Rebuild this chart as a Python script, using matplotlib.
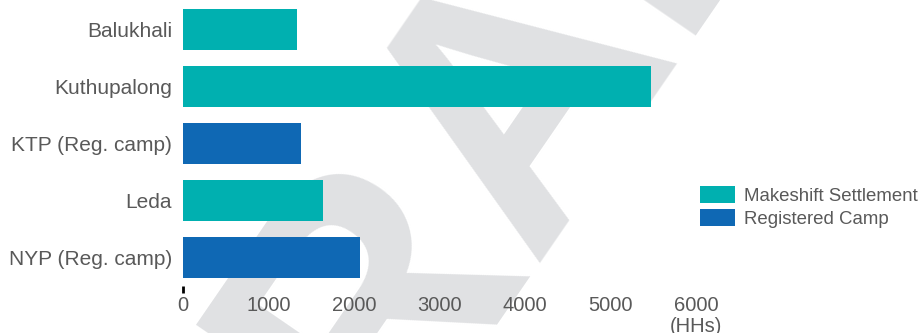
import matplotlib
matplotlib.use("Agg")
import matplotlib.pyplot as plt
from matplotlib.patches import Patch

categories = ["Balukhali", "Kuthupalong", "KTP (Reg. camp)", "Leda", "NYP (Reg. camp)"]
values = [1335, 5470, 1380, 1640, 2070]
types = ["Makeshift Settlement", "Makeshift Settlement", "Registered Camp",
         "Makeshift Settlement", "Registered Camp"]
x_ticks = [0, 1000, 2000, 3000, 4000, 5000, 6000]
x_ticklabels = ["0", "1000", "2000", "3000", "4000", "5000", "6000\n(HHs)"]
legend_labels = ["Makeshift Settlement", "Registered Camp"]
colors = {"Makeshift Settlement": "#00B0B0", "Registered Camp": "#0F68B4"}

plt.rcParams['font.family'] = ['Liberation Sans', 'DejaVu Sans']
text_color = "#595959"

fig = plt.figure(figsize=(9.2, 3.33), dpi=100)
ax = fig.add_axes([183/920, 47/333, 513/920, 285/333])
ax.patch.set_alpha(0)

# watermark
ax.text(0.6255, 0.4754, "DRAFT", transform=fig.transFigure, fontsize=260,
        fontweight='bold', color="#E0E1E3", rotation=55.5, ha='center',
        va='baseline', zorder=0, clip_on=False, rotation_mode='anchor')

ypos = list(range(len(categories)))
ax.barh(ypos, values, height=0.72, color=[colors[t] for t in types], zorder=2)
ax.set_ylim(len(categories) - 0.5, -0.5)
ax.set_xlim(0, 6000)
ax.set_yticks(ypos)
ax.set_yticklabels(categories, fontsize=15, color=text_color)
ax.set_xticks(x_ticks)
ax.set_xticklabels(x_ticklabels, fontsize=14.5, color=text_color, linespacing=1.15)
for s in ax.spines.values():
    s.set_visible(False)
ax.tick_params(axis='y', length=0, pad=8)
ax.tick_params(axis='x', length=0, pad=7)
t0 = ax.xaxis.get_major_ticks()[0]
t0.tick1line.set_markersize(5)
t0.tick1line.set_markeredgewidth(2)
t0.tick1line.set_color('#222222')

handles = [Patch(facecolor=colors[l], edgecolor='none') for l in legend_labels]
leg = fig.legend(handles, legend_labels, loc='upper left',
                 bbox_to_anchor=(700/920, 1 - 186/333), frameon=False,
                 fontsize=13.4, handlelength=1.88, handleheight=1.0,
                 handletextpad=0.48, labelspacing=0.25, borderpad=0,
                 borderaxespad=0)
for t in leg.get_texts():
    t.set_color(text_color)

fig.savefig("out.png", dpi=100)
